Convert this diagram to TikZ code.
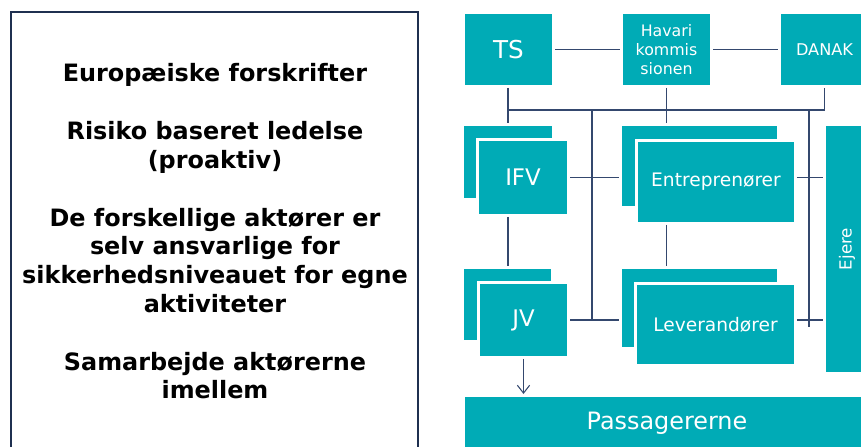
\documentclass[tikz,border=0pt]{standalone}
\usepackage{fontspec}
\setmainfont{DejaVu Sans}
\usepackage{tikz}
\usetikzlibrary{shadows,arrows.meta,calc}

\definecolor{boxteal}{RGB}{0,171,182}
\definecolor{linenavy}{RGB}{52,72,110}
\definecolor{framenavy}{RGB}{31,48,80}

\tikzset{
  orgbox/.style={rectangle, fill=boxteal, draw=white, line width=0.06cm, text=white,
    align=center, inner sep=0pt,
    drop shadow={shadow xshift=0.03cm, shadow yshift=-0.03cm, opacity=0.3}},
  link/.style={draw=linenavy, line width=0.6pt},
  regelramme/.style={rectangle, draw=framenavy, line width=1.2pt, inner sep=0pt},
}

\begin{document}
\begin{tikzpicture}[x=0.02cm, y=-0.02cm]
    \useasboundingbox (0,0) rectangle (861,446);
    \clip (0,0) rectangle (861,446);

    % venstre tekstboks
    \node[regelramme, minimum width=8.14cm, minimum height=9.16cm] (ramme) at (214.5,241) {};
    \node[align=center, font=\bfseries\fontsize{13.6}{16.4}\selectfont] (tekst) at (215,231.5)
      {Europæiske forskrifter\\[16.4pt]
       Risiko baseret ledelse\\(proaktiv)\\[16.4pt]
       De forskellige aktører er\\selv ansvarlige for\\sikkerhedsniveauet for egne\\aktiviteter\\[16.4pt]
       Samarbejde aktørerne\\imellem};

    % myndigheder
    \node[orgbox, minimum width=1.80cm, minimum height=1.48cm, font=\fontsize{14}{16}\selectfont] (ts) at (508.5,49.5) {TS};
    \node[orgbox, minimum width=1.80cm, minimum height=1.48cm, font=\fontsize{9}{11}\selectfont] (hav) at (666.5,49.5) {Havari\\kommis\\sionen};
    \node[orgbox, minimum width=1.80cm, minimum height=1.48cm, font=\fontsize{9.2}{11}\selectfont] (danak) at (824.5,49.5) {DANAK};

    % aktører
    \node[orgbox, minimum width=1.82cm, minimum height=1.50cm] (ifvb) at (508,162) {};
    \node[orgbox, minimum width=1.82cm, minimum height=1.52cm, font=\fontsize{13}{15}\selectfont] (ifv) at (523,177.5) {IFV};
    \node[orgbox, minimum width=3.16cm, minimum height=1.66cm] (entb) at (699.5,166) {};
    \node[orgbox, minimum width=3.18cm, minimum height=1.66cm, font=\fontsize{10.6}{13}\selectfont] (ent) at (716,182) {Entreprenører};
    \node[orgbox, minimum width=4.98cm, minimum height=0.90cm, rotate=90, font=\fontsize{9.5}{11}\selectfont] (ejere) at (847,249) {Ejere};

    \node[orgbox, minimum width=1.80cm, minimum height=1.48cm] (jvb) at (507.5,304.5) {};
    \node[orgbox, minimum width=1.80cm, minimum height=1.50cm, font=\fontsize{13}{15}\selectfont] (jv) at (523.5,320) {JV};
    \node[orgbox, minimum width=3.16cm, minimum height=1.62cm] (levb) at (699.5,308) {};
    \node[orgbox, minimum width=3.20cm, minimum height=1.64cm, font=\fontsize{10.6}{13}\selectfont] (lev) at (715.5,324.5) {Leverandører};

    \node[orgbox, minimum width=8.14cm, minimum height=1.10cm, font=\fontsize{13.6}{16}\selectfont] (pas) at (667,423) {Passagererne};

    % forbindelser
    \coordinate (bus) at (508,110);
    \coordinate (mid) at (592,110);
    \coordinate (hoejre) at (809,110);

    \draw[link] (ts) -- (hav);
    \draw[link] (hav) -- (danak);
    \draw[link] (ts.south -| bus) -- (ifvb.north -| bus);
    \draw[link] (bus) -| (danak.south);
    \draw[link] (hav.south) -- (hav.south |- entb.north);
    \draw[link] (mid) -- (mid |- jv.east);
    \draw[link] (hoejre) -- ($(hoejre |- jv.east)+(0,7)$);

    \draw[link] (ifv.east) -- (entb.west |- ifv.east);
    \draw[link] (ent.east |- ifv.east) -- (ejere.north |- ifv.east);
    \draw[link] (ifv.south -| bus) -- (jvb.north -| bus);
    \draw[link] (ent.south -| hav.south) -- (levb.north -| hav.south);
    \draw[link] (jv.east) -- (levb.west |- jv.east);
    \draw[link] (lev.east |- jv.east) -- (ejere.north |- jv.east);
    \draw[link, -{Straight Barb[length=4.5pt, width=7pt]}] (jv.south) -- (pas.north -| jv.south);
\end{tikzpicture}
\end{document}
